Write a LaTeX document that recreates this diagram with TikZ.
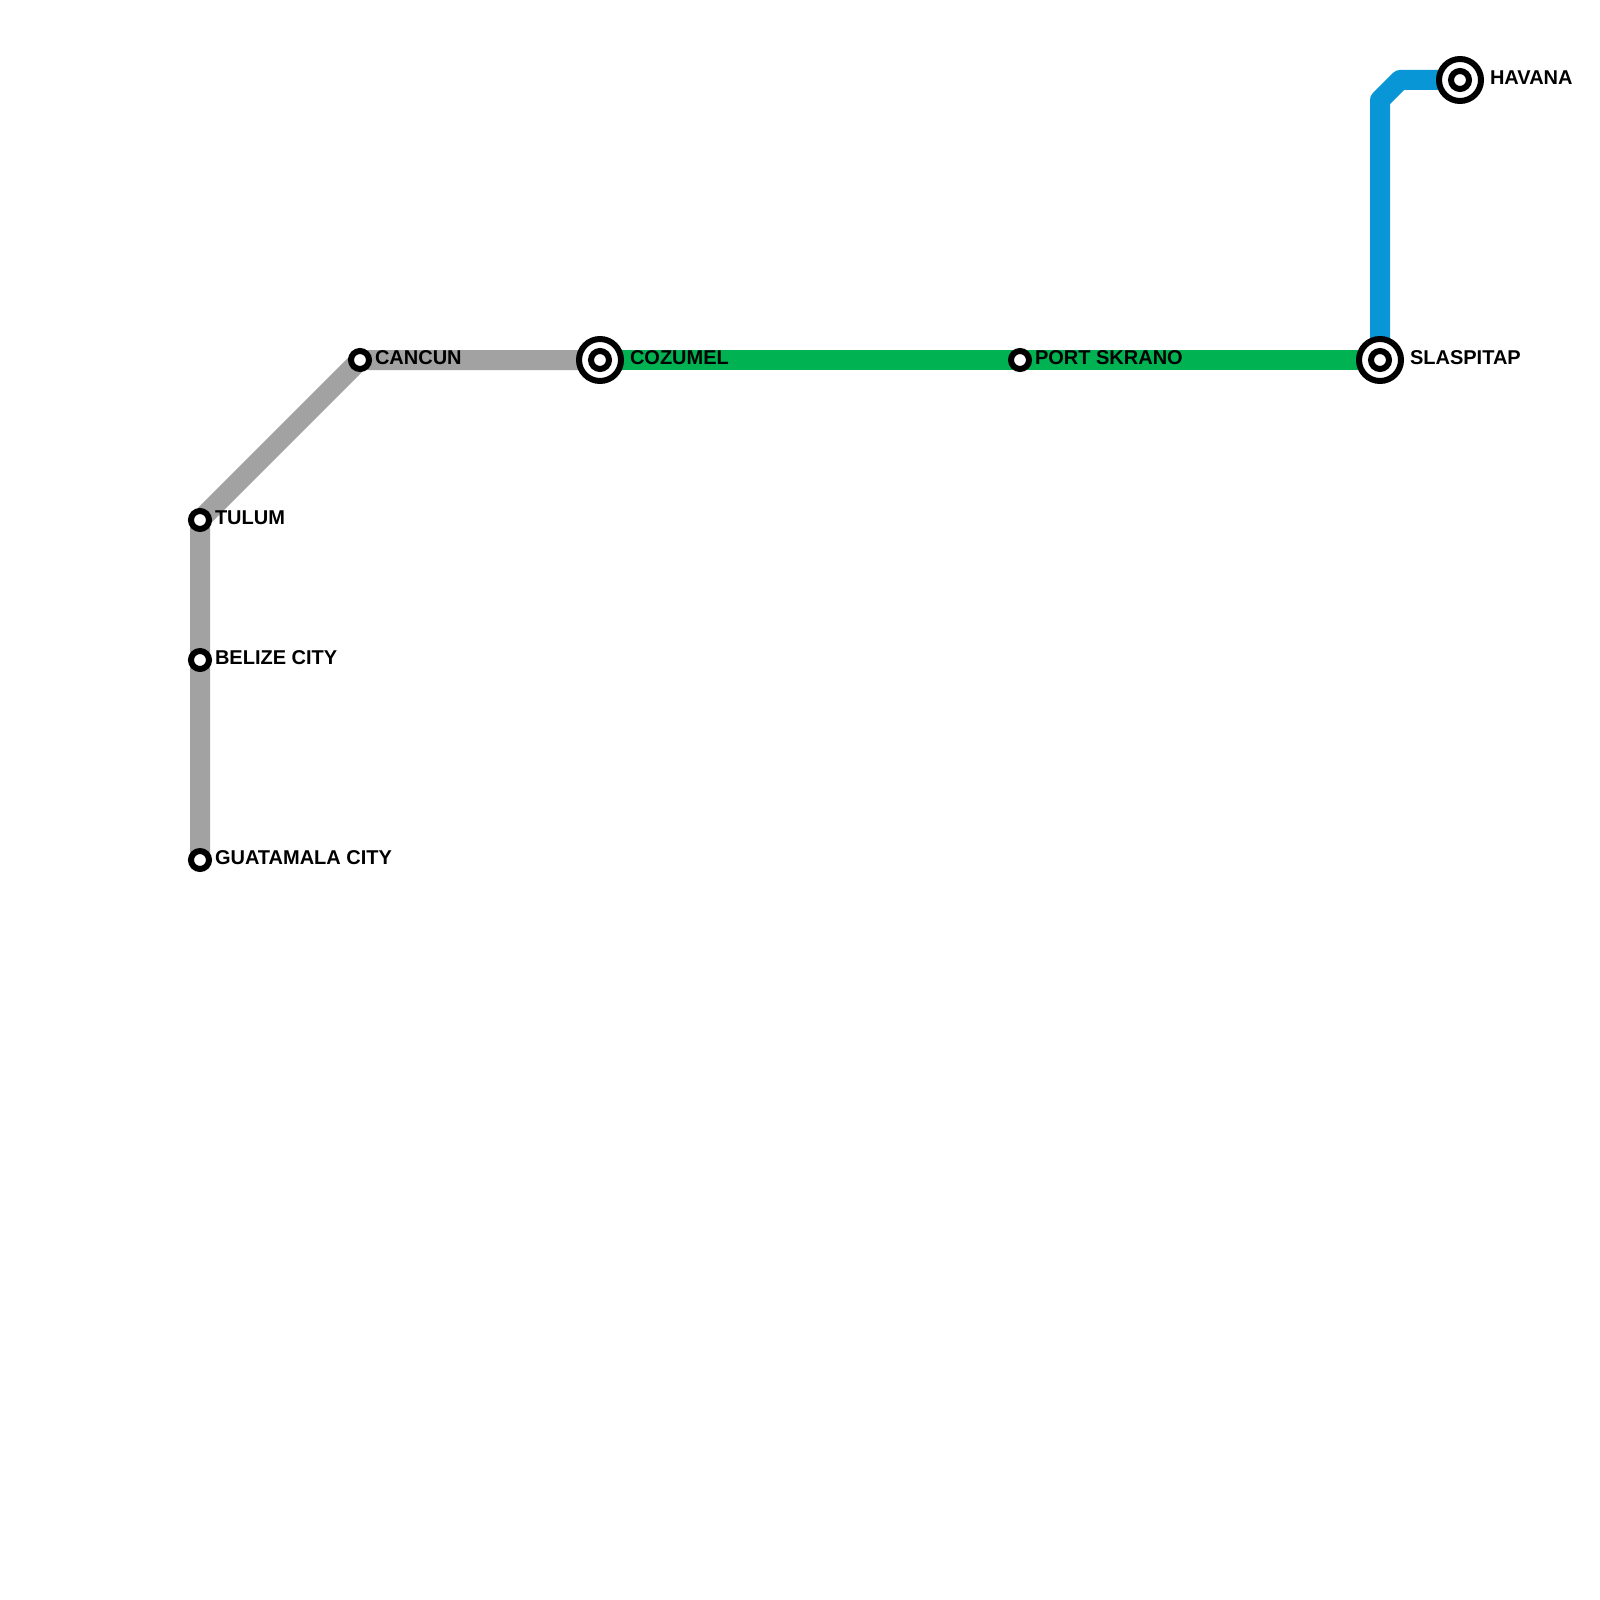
\documentclass[tikz,border=0pt]{standalone}
\usepackage{fontspec}
\setmainfont{Liberation Sans}
\definecolor{lgray}{HTML}{A2A2A2}
\definecolor{lgreen}{HTML}{00B251}
\definecolor{lblue}{HTML}{0896D7}
\tikzset{
  x=1pt,y=-1pt,
  metro/.style={line width=20pt,line join=round,line cap=butt},
  smallstop/.style={circle,draw=black,fill=white,line width=6pt,minimum size=18pt,inner sep=0pt,outer sep=0pt},
  bigstop/.style={circle,draw=black,fill=white,line width=6pt,minimum size=42pt,inner sep=0pt,outer sep=0pt},
  stoplabel/.style={anchor=base west,inner sep=0pt,outer sep=0pt,font=\fontsize{20}{20}\selectfont\bfseries,text=black},
}
\begin{document}
\begin{tikzpicture}
\useasboundingbox[fill=white] (0,0) rectangle (1600,1600);
\coordinate (guatamala) at (200,860);
\coordinate (belize) at (200,660);
\coordinate (tulum) at (200,520);
\coordinate (cancun) at (360,360);
\coordinate (cozumel) at (600,360);
\coordinate (skrano) at (1020,360);
\coordinate (slaspitap) at (1380,360);
\coordinate (havana) at (1460,80);
\coordinate (bendA) at (1380,100);
\coordinate (bendB) at (1400,80);
\draw[metro,lgray] (guatamala) -- (belize) -- (tulum) -- (cancun) -- (cozumel);
\draw[metro,lgreen] (cozumel) -- (skrano) -- (slaspitap);
\draw[metro,lblue] (slaspitap) -- (bendA) -- (bendB) -- (havana);
\node[smallstop] (nguatamala) at (guatamala) {};
\node[smallstop] (nbelize) at (belize) {};
\node[smallstop] (ntulum) at (tulum) {};
\node[smallstop] (ncancun) at (cancun) {};
\node[smallstop] (nskrano) at (skrano) {};
\node[bigstop] (ncozumelO) at (cozumel) {};
\node[smallstop] (ncozumelI) at (cozumel) {};
\node[bigstop] (nslaspitapO) at (slaspitap) {};
\node[smallstop] (nslaspitapI) at (slaspitap) {};
\node[bigstop] (nhavanaO) at (havana) {};
\node[smallstop] (nhavanaI) at (havana) {};
\node[stoplabel] (lguatamala) at (215,864.5) {GUATAMALA CITY};
\node[stoplabel] (lbelize) at (215,664.5) {BELIZE CITY};
\node[stoplabel] (ltulum) at (215,524.5) {TULUM};
\node[stoplabel] (lcancun) at (375,364.5) {CANCUN};
\node[stoplabel] (lcozumel) at (630,364.5) {COZUMEL};
\node[stoplabel] (lskrano) at (1035,364.5) {PORT SKRANO};
\node[stoplabel] (lslaspitap) at (1410,364.5) {SLASPITAP};
\node[stoplabel] (lhavana) at (1490,84.5) {HAVANA};
\end{tikzpicture}
\end{document}
